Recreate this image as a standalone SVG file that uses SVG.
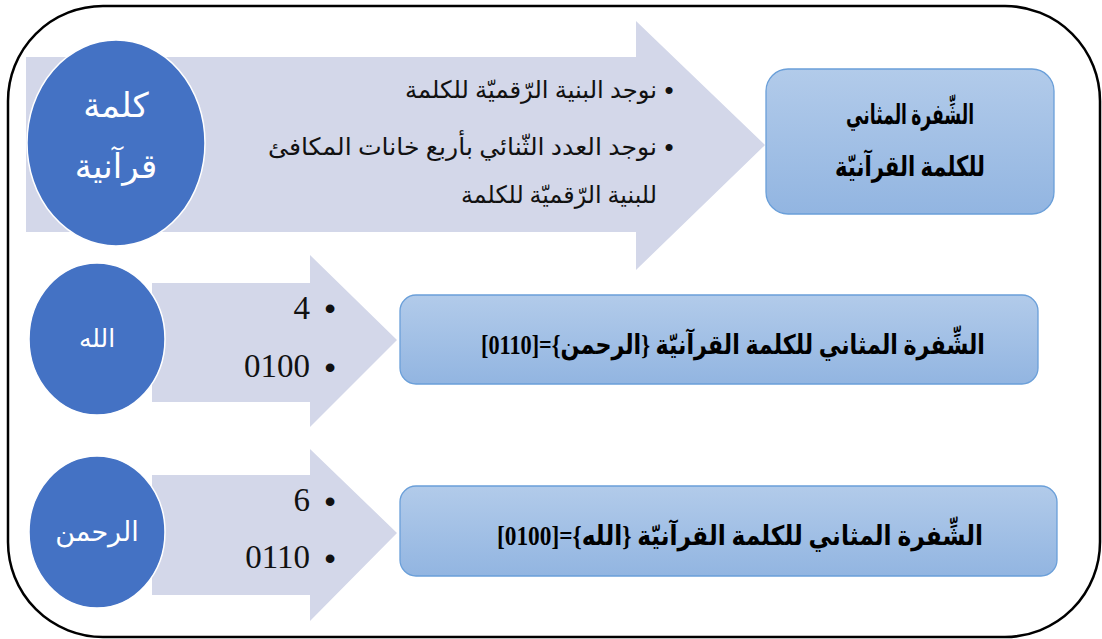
<svg xmlns="http://www.w3.org/2000/svg" width="1102" height="639" viewBox="0 0 1102 639">
<defs>
<linearGradient id="boxg" x1="0" y1="0" x2="0" y2="1">
<stop offset="0" stop-color="#b2cbea"/>
<stop offset="1" stop-color="#92b5e1"/>
</linearGradient>
<style>
.frame{fill:#fff;stroke:#000;stroke-width:2.5}
.arrow{fill:#d3d7e9;stroke:none}
.circ{fill:#4472c4;stroke:#fff;stroke-width:1.5}
.box{fill:url(#boxg);stroke:#6a9fd9;stroke-width:1.3}
.ct{fill:#fff;font-family:'Liberation Serif','DejaVu Sans',serif;text-anchor:middle}
.bt{fill:#111;font-family:'Liberation Serif','DejaVu Sans',serif;font-size:24px;text-anchor:end}
.num{fill:#111;font-family:'Liberation Serif',serif;font-size:33px;text-anchor:end}
.bul{fill:#111;font-family:'Liberation Sans',sans-serif;font-size:26px;text-anchor:middle}
.bul2{fill:#111;font-family:'Liberation Sans',sans-serif;font-size:32px;text-anchor:middle}
.bx{fill:#000;font-family:'Liberation Serif','DejaVu Sans',serif;font-weight:bold;text-anchor:middle}
</style>
</defs>
<rect class="frame" x="8" y="6" width="1092" height="631" rx="95" ry="95"/>
<g id="connectors">
<polygon class="arrow" points="26,57 636,57 636,21 765,145 636,270 636,232 26,232"/>
<polygon class="arrow" points="152,283 310,283 310,255 397,340 310,427 310,402 152,402"/>
<polygon class="arrow" points="152,475 310,475 310,449 397,533 310,621 310,595 152,595"/>
</g>
<g id="node-word">
<ellipse class="circ" cx="116" cy="143" rx="89" ry="103"/>
<text class="ct" x="116" y="117" font-size="34">كلمة</text>
<text class="ct" x="116" y="178" font-size="34">قرآنية</text>
</g>
<g id="node-steps">
<text class="bul" x="669" y="99">•</text>
<text class="bt" x="657" y="98" textLength="252" lengthAdjust="spacingAndGlyphs">نوجد البنية الرّقميّة للكلمة</text>
<text class="bul" x="669" y="156">•</text>
<text class="bt" x="657" y="155" textLength="389" lengthAdjust="spacingAndGlyphs">نوجد العدد الثّنائي بأربع خانات المكافئ</text>
<text class="bt" x="657" y="203" textLength="196" lengthAdjust="spacingAndGlyphs">للبنية الرّقميّة للكلمة</text>
</g>
<g id="node-cipher">
<rect class="box" x="766" y="69" width="288" height="145" rx="22" ry="22"/>
<text class="bx" x="910" y="124" font-size="28" textLength="128" lengthAdjust="spacingAndGlyphs">الشِّفرة المثاني</text>
<text class="bx" x="910" y="176" font-size="28" textLength="150" lengthAdjust="spacingAndGlyphs">للكلمة القرآنيّة</text>
</g>
<g id="node-allah">
<ellipse class="circ" cx="97" cy="339" rx="68" ry="76"/>
<text class="ct" x="97" y="347" font-size="25">الله</text>
</g>
<g id="node-allah-values">
<text class="num" x="310" y="319">4</text>
<text class="bul2" x="330" y="319">•</text>
<text class="num" x="310" y="377">0100</text>
<text class="bul2" x="330" y="378">•</text>
</g>
<g id="node-rahman-cipher">
<rect class="box" x="400" y="295" width="638" height="89" rx="16" ry="16"/>
<text class="bx" x="733" y="354" font-size="27" direction="rtl" textLength="504" lengthAdjust="spacingAndGlyphs">الشِّفرة المثاني للكلمة القرآنيّة {الرحمن}=[0110]</text>
</g>
<g id="node-rahman">
<ellipse class="circ" cx="97" cy="532" rx="68" ry="76"/>
<text class="ct" x="97" y="541" font-size="27">الرحمن</text>
</g>
<g id="node-rahman-values">
<text class="num" x="310" y="511">6</text>
<text class="bul2" x="330" y="512">•</text>
<text class="num" x="310" y="568">0110</text>
<text class="bul2" x="330" y="569">•</text>
</g>
<g id="node-allah-cipher">
<rect class="box" x="400" y="486" width="657" height="90" rx="16" ry="16"/>
<text class="bx" x="740" y="545" font-size="27" direction="rtl" textLength="486" lengthAdjust="spacingAndGlyphs">الشِّفرة المثاني للكلمة القرآنيّة {الله}=[0100]</text>
</g>
</svg>
